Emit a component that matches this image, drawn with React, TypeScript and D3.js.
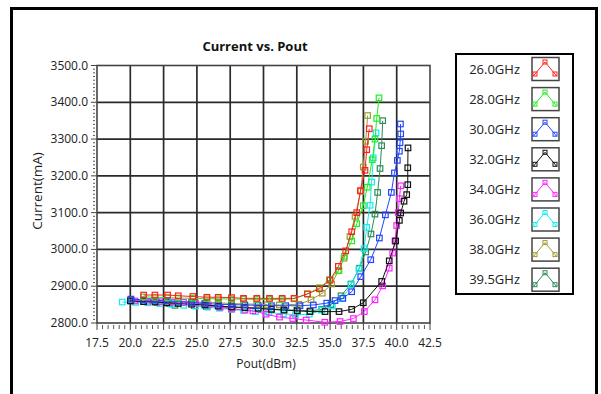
import React from "react";
import * as d3 from "d3";

const seriesNames = ["26.0GHz", "28.0GHz", "30.0GHz", "32.0GHz", "34.0GHz", "36.0GHz", "38.0GHz", "39.5GHz"];
const seriesColors = ["#ff2020", "#22ee22", "#2244ff", "#111111", "#ff22ff", "#11eeee", "#a09a30", "#2e8b57"];

const f26: [number, number][] = [[21.0,2876],[21.85,2876],[22.8,2876],[23.6,2874],[24.7,2872],[25.75,2870],[26.6,2870],[27.6,2869],[28.5,2867],[29.5,2867],[30.45,2867],[31.4,2867],[32.3,2867],[33.3,2879],[34.2,2893],[35.0,2917],[35.62,2954],[36.17,2996],[36.62,3048],[37.0,3100],[37.28,3160],[37.62,3215],[37.75,3271],[37.94,3328]];
const f28: [number, number][] = [[21.0,2871],[21.85,2870],[22.8,2869],[23.6,2868],[24.7,2867],[25.75,2866],[26.6,2866],[27.6,2865],[28.5,2865],[29.5,2864],[30.45,2864],[31.4,2864],[32.3,2866],[33.29,2879],[34.2,2896],[34.94,2917],[35.67,2943],[36.07,2981],[36.62,3023],[37.0,3070],[37.49,3119],[37.79,3169],[38.17,3244],[38.37,3300],[38.5,3356],[38.67,3412]];
const f30: [number, number][] = [[20.05,2865],[21.0,2863],[21.85,2862],[22.75,2860],[23.6,2859],[24.6,2856],[25.6,2853],[26.6,2851],[27.6,2850],[28.6,2849],[29.6,2848],[30.6,2847],[31.67,2847],[32.74,2847],[33.74,2849],[34.75,2854],[35.37,2861],[35.95,2867],[36.62,2885],[37.3,2926],[38.05,2972],[38.7,3031],[39.15,3094],[39.6,3155],[39.83,3208],[40.05,3242],[40.2,3267],[40.25,3290],[40.3,3314],[40.28,3341]];
const f32: [number, number][] = [[20.0,2860],[21.0,2858],[21.85,2857],[22.75,2855],[23.6,2853],[24.6,2851],[25.6,2849],[26.6,2846],[27.6,2844],[28.6,2842],[29.6,2840],[30.6,2837],[31.55,2835],[32.54,2833],[33.49,2831],[34.62,2831],[35.67,2831],[36.62,2837],[37.49,2855],[38.87,2913],[39.44,2969],[39.92,3023],[40.2,3079],[40.3,3099],[40.55,3131],[40.75,3149],[40.83,3176],[40.83,3222],[40.85,3276]];
const f34: [number, number][] = [[20.35,2860],[21.3,2859],[22.2,2858],[23.1,2857],[24.0,2856],[24.9,2854],[25.85,2849],[26.75,2843],[27.6,2838],[28.6,2835],[29.2,2833],[30.2,2824],[31.2,2816],[32.2,2812],[33.2,2808],[34.6,2802],[35.75,2804],[36.75,2812],[37.57,2831],[38.37,2863],[38.95,2901],[39.44,2949],[39.7,2990],[39.87,3023],[40.0,3065],[40.12,3100],[40.2,3138],[40.3,3173]];
const f36: [number, number][] = [[19.4,2857],[20.4,2856],[21.3,2855],[22.2,2853],[23.1,2851],[24.0,2848],[24.9,2846],[25.8,2843],[26.7,2840],[27.6,2837],[28.5,2834],[29.4,2831],[30.4,2828],[31.5,2825],[32.4,2822],[33.44,2824],[34.37,2835],[35.17,2846],[35.95,2867],[36.57,2904],[37.17,2947],[37.55,3002],[37.75,3060],[38.0,3120],[38.12,3183],[38.24,3249],[38.45,3317]];
const f38: [number, number][] = [[20.0,2863],[21.0,2862],[21.85,2861],[22.8,2859],[23.6,2858],[24.7,2857],[25.75,2856],[26.6,2855],[27.6,2853],[28.5,2852],[29.5,2851],[30.3,2850],[31.19,2849],[32.67,2851],[33.57,2863],[34.41,2881],[35.12,2906],[35.62,2942],[36.04,2976],[36.49,3035],[36.87,3090],[37.3,3158],[37.49,3224],[37.67,3294],[37.82,3364]];
const f395: [number, number][] = [[20.1,2860],[21.0,2858],[22.0,2856],[22.9,2853],[23.35,2848],[24.8,2847],[25.7,2845],[26.7,2843],[27.7,2842],[28.6,2841],[29.6,2840],[30.6,2838],[31.5,2836],[32.5,2835],[33.49,2833],[34.37,2837],[35.07,2850],[35.82,2874],[36.57,2906],[37.19,2949],[37.67,2993],[38.07,3042],[38.37,3096],[38.57,3155],[38.75,3220],[38.87,3282],[38.95,3350]];

const seriesData = [f26, f28, f30, f32, f34, f36, f38, f395];

const xTicks = [17.5, 20.0, 22.5, 25.0, 27.5, 30.0, 32.5, 35.0, 37.5, 40.0, 42.5];
const yTicks = [2800, 2900, 3000, 3100, 3200, 3300, 3400, 3500];

const FONT = "'Open Sans', 'DejaVu Sans', sans-serif";

export default function App() {
  const W = 601, H = 394;
  const x = d3.scaleLinear().domain([17.5, 42.5]).range([97, 430]);
  const y = d3.scaleLinear().domain([2800, 3500]).range([323, 65.5]);
  const line = d3.line<[number, number]>().x(d => x(d[0])).y(d => y(d[1]));

  const xMinor: number[] = [];
  for (let i = 0; i < xTicks.length - 1; i++) {
    for (let k = 1; k < 6; k++) xMinor.push(xTicks[i] + (2.5 * k) / 6);
  }
  const yMinor: number[] = [];
  for (let i = 0; i < yTicks.length - 1; i++) {
    for (let k = 1; k < 10; k++) yMinor.push(yTicks[i] + 10 * k);
  }

  const [x0, x1] = x.range();
  const [y0, y1] = y.range();
  const ms = 5.5;
  const order = [7, 6, 5, 4, 3, 2, 1, 0];

  return (
    <svg width={W} height={H} style={{ position: "absolute", left: 0, top: 0, background: "#fff" }} fontFamily={FONT}>
      <rect x={0} y={0} width={W} height={H} fill="#fff" />
      <rect x={11.5} y={8.5} width={585} height={400} fill="none" stroke="#000" strokeWidth={3} />
      <text x={255} y={51} textAnchor="middle" fontSize={13} fontWeight="bold" fill="#111">Current vs. Pout</text>

      {/* plot area */}
      <rect x={x0} y={y1} width={x1 - x0} height={y0 - y1} fill="#fff" />
      {xTicks.slice(1, -1).map(t => (
        <line key={"gx" + t} x1={x(t)} x2={x(t)} y1={y1} y2={y0} stroke="#2a2a2a" strokeWidth={1.7} />
      ))}
      {yTicks.slice(1, -1).map(t => (
        <line key={"gy" + t} x1={x0} x2={x1} y1={y(t)} y2={y(t)} stroke="#2a2a2a" strokeWidth={1.7} />
      ))}
      <rect x={x0} y={y1} width={x1 - x0} height={y0 - y1} fill="none" stroke="#444" strokeWidth={1.6} />

      {/* axes ticks */}
      {xTicks.map(t => (
        <line key={"xt" + t} x1={x(t)} x2={x(t)} y1={y0} y2={y0 + 7} stroke="#444" strokeWidth={1} />
      ))}
      {xMinor.map((t, i) => (
        <line key={"xm" + i} x1={x(t)} x2={x(t)} y1={y0 + 2} y2={y0 + 6} stroke="#555" strokeWidth={1} />
      ))}
      {yTicks.map(t => (
        <line key={"yt" + t} x1={x0 - 6} x2={x0} y1={y(t)} y2={y(t)} stroke="#444" strokeWidth={1} />
      ))}
      {yMinor.map((t, i) => (
        <line key={"ym" + i} x1={x0 - 4} x2={x0 - 2} y1={y(t)} y2={y(t)} stroke="#555" strokeWidth={1} />
      ))}
      {xTicks.map(t => (
        <text key={"xl" + t} x={x(t)} y={347} textAnchor="middle" fontSize={12} fill="#222">{t.toFixed(1)}</text>
      ))}
      {yTicks.map(t => (
        <text key={"yl" + t} x={88} y={y(t) + 4} textAnchor="end" fontSize={12} fill="#222">{t.toFixed(1)}</text>
      ))}
      <text x={266} y={368} textAnchor="middle" fontSize={12} fill="#222">Pout(dBm)</text>
      <text transform={`translate(42,191) rotate(-90)`} textAnchor="middle" fontSize={13.5} fill="#222">Current(mA)</text>

      {/* series */}
      {order.map(i => (
        <g key={"s" + i}>
          <path d={line(seriesData[i]) || ""} fill="none" stroke={seriesColors[i]} strokeWidth={1} />
          {seriesData[i].map((d, j) => (
            <rect key={j} x={x(d[0]) - ms / 2} y={y(d[1]) - ms / 2} width={ms} height={ms} fill="none" stroke={seriesColors[i]} strokeWidth={1.2} />
          ))}
        </g>
      ))}

      {/* legend */}
      <rect x={456} y={54} width={117} height={240} fill="#fff" stroke="#000" strokeWidth={2} />
      {seriesNames.map((n, i) => {
        const cy = 69 + i * 30.1;
        const c = seriesColors[i];
        const pts: [number, number][] = [[535, cy + 5], [545, cy - 7], [555, cy + 5]];
        return (
          <g key={"lg" + i}>
            <text x={520} y={cy + 4.5} textAnchor="end" fontSize={13} fill="#222">{n}</text>
            <rect x={532} y={cy - 11.5} width={27} height={23} fill="#fff" stroke="#444" strokeWidth={1.5} />
            <polyline points={pts.map(p => p.join(",")).join(" ")} fill="none" stroke={c} strokeWidth={1} />
            <line x1={535} x2={533.5} y1={cy + 5} y2={cy + 7} stroke={c} strokeWidth={1} />
            <line x1={555} x2={556.5} y1={cy + 5} y2={cy + 7} stroke={c} strokeWidth={1} />
            {pts.map((p, j) => (
              <rect key={j} x={p[0] - 2} y={p[1] - 2} width={4} height={4} fill="none" stroke={c} strokeWidth={1} />
            ))}
          </g>
        );
      })}
    </svg>
  );
}
